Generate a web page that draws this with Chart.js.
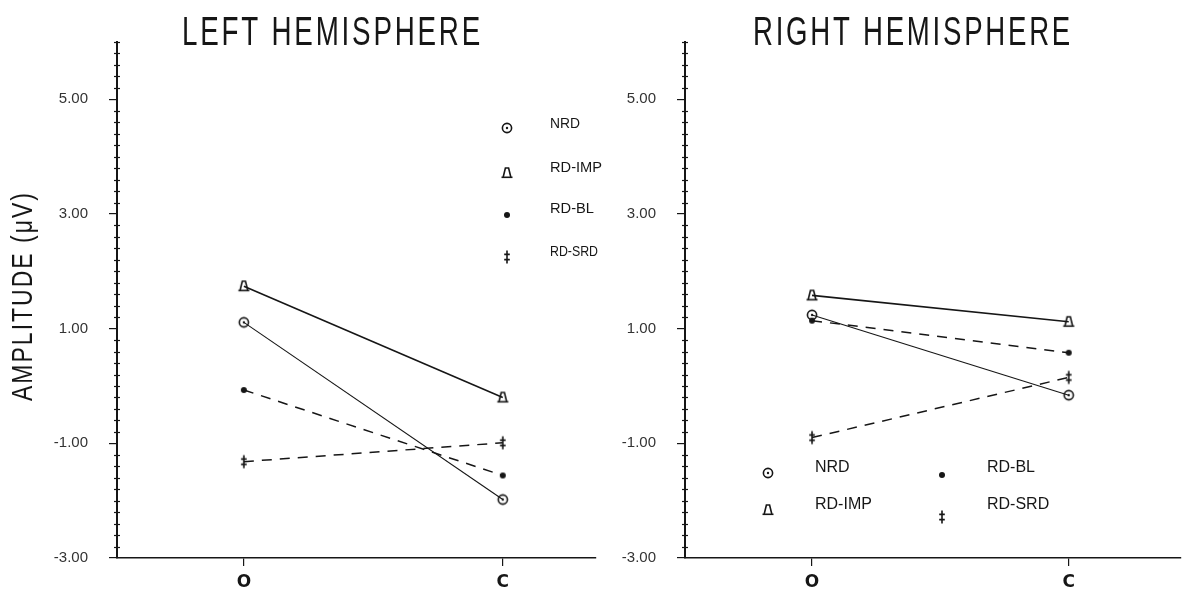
<!DOCTYPE html>
<html>
<head>
<meta charset="utf-8">
<script src="https://cdn.jsdelivr.net/npm/chart.js@4.4.0/dist/chart.umd.min.js"></script>
<style>
html,body{margin:0;padding:0;background:#fff;}
#wrap{position:relative;width:1188px;height:592px;overflow:hidden;}
canvas{position:absolute;top:0;}
#cl{left:0;}
#cr{left:596px;}
</style>
</head>
<body>
<div id="wrap">
  <canvas id="cl" width="612" height="592" style="width:612px;height:592px"></canvas>
  <canvas id="cr" width="592" height="592" style="width:592px;height:592px"></canvas>
</div>
<script>
// conditions on the x axis
const conditions=[1,3];
const conditionLabels=['O','C'];
const groups=['NRD','RD-IMP','RD-BL','RD-SRD'];
const yLabelled=[-3,-1,1,3,5];

// amplitudes (uV) at O and C
const leftNRD=[1.11,-1.98];
const leftIMP=[1.74,-0.20];
const leftBL=[-0.07,-1.56];
const leftSRD=[-1.32,-0.99];

const rightNRD=[1.24,-0.16];
const rightIMP=[1.58,1.12];
const rightBL=[1.14,0.58];
const rightSRD=[-0.90,0.15];

const INK='#161616';
const FONT='"Liberation Sans","DejaVu Sans",sans-serif';

function mark(draw){
  const c=document.createElement('canvas');c.width=16;c.height=16;
  const g=c.getContext('2d');g.strokeStyle=INK;g.fillStyle=INK;g.lineWidth=1.6;g.translate(8,8);
  draw(g);return c;
}
const MARKS=[
  mark(g=>{g.beginPath();g.arc(0,0,4.6,0,Math.PI*2);g.stroke();g.beginPath();g.arc(0,0,1.2,0,Math.PI*2);g.fill();}),
  mark(g=>{g.beginPath();g.moveTo(-3.8,4);g.lineTo(-1.6,-5);g.lineTo(1.6,-5);g.lineTo(3.8,4);g.stroke();
           g.beginPath();g.moveTo(-5.5,4.3);g.lineTo(5.5,4.3);g.stroke();}),
  mark(g=>{g.beginPath();g.arc(0,0,3,0,Math.PI*2);g.fill();}),
  mark(g=>{g.beginPath();g.moveTo(0,-6.5);g.lineTo(0,6.5);g.moveTo(-2.8,-2.6);g.lineTo(2.8,-2.6);g.moveTo(-2.8,2.6);g.lineTo(2.8,2.6);g.stroke();})
];
const WIDTHS=[1.1,1.6,1.5,1.5];
const DASHES=[[],[],[10,8],[10,8]];

const isMajor=v=>yLabelled.some(m=>Math.abs(m-v)<1e-6);

const decor={
  id:'decor',
  afterDraw(chart,args,o){
    const ctx=chart.ctx,ys=chart.scales.y,ca=chart.chartArea;
    ctx.save();
    // minor ticks crossing the axis
    ctx.strokeStyle=INK;ctx.lineWidth=1.2;
    ys.ticks.forEach(t=>{
      if(isMajor(t.value))return;
      const y=Math.round(ys.getPixelForValue(t.value))+0.5;
      ctx.beginPath();ctx.moveTo(ca.left-3,y);ctx.lineTo(ca.left+3,y);ctx.stroke();
    });
    ctx.fillStyle=INK;
    // panel title: thin tall plotter-style lettering
    ctx.save();
    ctx.translate(o.tx,45);ctx.scale(1,1.38);
    ctx.font=`300 30px ${FONT}`;ctx.letterSpacing='3px';
    ctx.textAlign='left';ctx.textBaseline='alphabetic';
    ctx.fillText(o.title,0,0,o.tw);
    ctx.restore();
    // y title
    if(o.ytitle){
      ctx.save();ctx.translate(24,296);ctx.rotate(-Math.PI/2);ctx.scale(1,1.25);
      ctx.font=`23px ${FONT}`;ctx.letterSpacing='2px';ctx.textAlign='center';ctx.textBaseline='middle';
      ctx.fillText(o.ytitle,0,0,262);ctx.restore();
    }
    // legend
    ctx.font=`${o.lfont}px ${FONT}`;ctx.textAlign='left';ctx.textBaseline='middle';
    o.legend.forEach(l=>{
      const m=MARKS[l.i];
      ctx.drawImage(m,l.x-m.width/2,l.y-m.height/2);
      ctx.fillText(groups[l.i],l.lx,l.ly,l.lw);
    });
    ctx.restore();
  }
};

function panel(id,values,xMin,xMax,yWidth,padRight,deco){
  return new Chart(document.getElementById(id),{
    type:'line',
    data:{datasets:groups.map((g,i)=>({
      label:g,
      data:values[i].map((v,j)=>({x:conditions[j],y:v})),
      borderColor:INK,borderWidth:WIDTHS[i],borderDash:DASHES[i],
      pointStyle:MARKS[i],pointRadius:6,fill:false,tension:0
    }))},
    options:{
      responsive:false,animation:false,
      layout:{padding:{top:42,left:0,right:padRight,bottom:0}},
      plugins:{legend:{display:false},tooltip:{enabled:false},decor:deco},
      scales:{
        x:{type:'linear',min:xMin,max:xMax,
          afterBuildTicks:s=>{s.ticks=conditions.map(v=>({value:v}));},
          afterFit:s=>{s.height=34;},
          ticks:{callback:v=>conditionLabels[conditions.indexOf(v)],color:INK,font:{family:'"DejaVu Sans",sans-serif',size:17,weight:'bold'},padding:6,maxRotation:0,autoSkip:false},
          grid:{drawOnChartArea:false,tickLength:8,color:INK,lineWidth:1.2},
          border:{color:INK,width:1.6}},
        y:{min:-3,max:6,
          afterBuildTicks:s=>{const t=[];for(let k=0;k<=45;k++)t.push({value:Math.round((-3+k*0.2)*10)/10});s.ticks=t;},
          afterFit:s=>{s.width=yWidth;},
          ticks:{autoSkip:false,color:'#333',font:{family:FONT,size:15},padding:21,
            callback:v=>isMajor(v)?v.toFixed(2):''},
          grid:{drawOnChartArea:false,tickLength:8,lineWidth:1.2,color:c=>c.tick&&isMajor(c.tick.value)?INK:'rgba(0,0,0,0)'},
          border:{color:INK,width:2}}
      }
    },
    plugins:[decor]
  });
}

panel('cl',[leftNRD,leftIMP,leftBL,leftSRD],0.02,3.72,117,16,{
  title:'LEFT HEMISPHERE',tx:182,tw:301,ytitle:'AMPLITUDE (\u03BCV)',lfont:15,
  legend:[
    {i:0,x:507,y:128,lx:550,ly:124,lw:30},
    {i:1,x:507,y:173,lx:550,ly:168,lw:52},
    {i:2,x:507,y:215,lx:550,ly:209,lw:44},
    {i:3,x:507,y:257,lx:550,ly:252,lw:48}
  ]
});
panel('cr',[rightNRD,rightIMP,rightBL,rightSRD],0.01,3.87,89,0,{
  title:'RIGHT HEMISPHERE',tx:157,tw:320,ytitle:null,lfont:16,
  legend:[
    {i:0,x:172,y:473,lx:219,ly:468,lw:35},
    {i:1,x:172,y:510,lx:219,ly:505,lw:72},
    {i:2,x:346,y:475,lx:391,ly:468,lw:63},
    {i:3,x:346,y:517,lx:391,ly:505,lw:86}
  ]
});
</script>
</body>
</html>
